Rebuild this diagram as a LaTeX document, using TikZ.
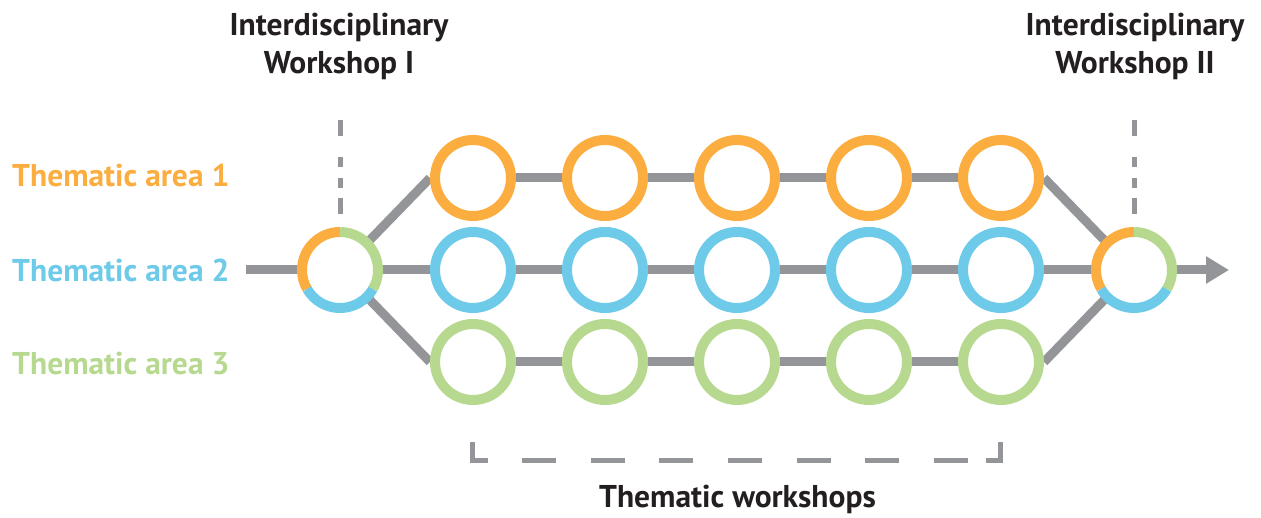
\documentclass[tikz,border=0pt]{standalone}
\usepackage{fontspec}
\setmainfont{PT Sans}
\usetikzlibrary{arrows.meta}
\usetikzlibrary{backgrounds}
\definecolor{areaone}{HTML}{FBAE3F}
\definecolor{areatwo}{HTML}{6DCAE8}
\definecolor{areathree}{HTML}{B6D98F}
\definecolor{linkgray}{HTML}{939598}
\definecolor{textblack}{HTML}{231F20}

\begin{document}
\begin{tikzpicture}[x=1pt, y=1pt,
            ws/.style={circle, draw, line width=10pt, fill=white, minimum size=76pt, inner sep=0pt},
            hub/.style={circle, fill=white, minimum size=76pt, inner sep=0pt, outer sep=0pt},
            seg/.style={line width=10pt},
            link/.style={draw=linkgray, line width=9pt},
            marker/.style={draw=linkgray, line width=5pt},
            area/.style={anchor=base west, inner sep=0pt, font=\fontsize{31.5}{38}\selectfont\bfseries},
            title/.style={align=center, inner sep=0pt, text=textblack, font=\fontsize{31.5}{38}\selectfont\bfseries}
        ]
            \useasboundingbox (0,0) rectangle (1261,517);

            \node[hub] (hubL) at (340,247) {};
            \node[hub] (hubR) at (1134,247) {};
            \coordinate (in) at (246,247);
            \coordinate (out) at (1229,247);

            \node[ws, draw=areaone] (a1) at (473,339) {};
            \node[ws, draw=areaone] (a2) at (605,339) {};
            \node[ws, draw=areaone] (a3) at (737,339) {};
            \node[ws, draw=areaone] (a4) at (869,339) {};
            \node[ws, draw=areaone] (a5) at (1001,339) {};

            \node[ws, draw=areatwo] (b1) at (473,247) {};
            \node[ws, draw=areatwo] (b2) at (605,247) {};
            \node[ws, draw=areatwo] (b3) at (737,247) {};
            \node[ws, draw=areatwo] (b4) at (869,247) {};
            \node[ws, draw=areatwo] (b5) at (1001,247) {};

            \node[ws, draw=areathree] (c1) at (473,155) {};
            \node[ws, draw=areathree] (c2) at (605,155) {};
            \node[ws, draw=areathree] (c3) at (737,155) {};
            \node[ws, draw=areathree] (c4) at (869,155) {};
            \node[ws, draw=areathree] (c5) at (1001,155) {};

            \foreach \h in {hubL, hubR} {
                \draw[seg, areaone] (\h.90) arc[start angle=90, end angle=210, radius=38pt];
                \draw[seg, areatwo] (\h.210) arc[start angle=210, end angle=330, radius=38pt];
                \draw[seg, areathree] (\h.330) arc[start angle=330, end angle=450, radius=38pt];
            }

            \begin{scope}[on background layer]
                \draw[link] (in) -- (hubL);
                \draw[link] (hubL.45) -- (a1.west);
                \draw[link] (hubL) -- (b1);
                \draw[link] (hubL.-45) -- (c1.west);
                \draw[link] (a1) -- (a2) -- (a3) -- (a4) -- (a5);
                \draw[link] (b1) -- (b2) -- (b3) -- (b4) -- (b5);
                \draw[link] (c1) -- (c2) -- (c3) -- (c4) -- (c5);
                \draw[link] (a5.east) -- (hubR.135);
                \draw[link] (b5) -- (hubR);
                \draw[link] (c5.east) -- (hubR.-135);
                \draw[link, -{Triangle[length=23pt, width=26pt]}] (hubR) -- (out);
            \end{scope}

            \draw[marker, dash pattern=on 16pt off 21pt on 10pt off 11pt on 10pt off 10pt on 16pt] ([yshift=112pt]hubL.north) -- ([yshift=18pt]hubL.north);
            \draw[marker, dash pattern=on 16pt off 21pt on 10pt off 11pt on 10pt off 10pt on 16pt] ([yshift=112pt]hubR.north) -- ([yshift=18pt]hubR.north);

            \draw[marker] (472.5,75) -- (472.5,56.5) -- (488,56.5);
            \draw[marker, dash pattern=on 34pt off 34.67pt] (522,56.5) -- (968,56.5);
            \draw[marker] (986,56.5) -- (1000.5,56.5) -- (1000.5,75);

            \node[title, anchor=base] (wsone) at (339,443) {Interdisciplinary\\Workshop I};
            \node[title, anchor=base] (wstwo) at (1135,443) {Interdisciplinary\\Workshop II};
            \node[title, anchor=base] (thematic) at (737.5,9.5) {Thematic workshops};

            \node[area, text=areaone] (lblone) at (12,330) {Thematic area 1};
            \node[area, text=areatwo] (lbltwo) at (12,235) {Thematic area 2};
            \node[area, text=areathree] (lblthree) at (12,142) {Thematic area 3};
        \end{tikzpicture}
\end{document}
